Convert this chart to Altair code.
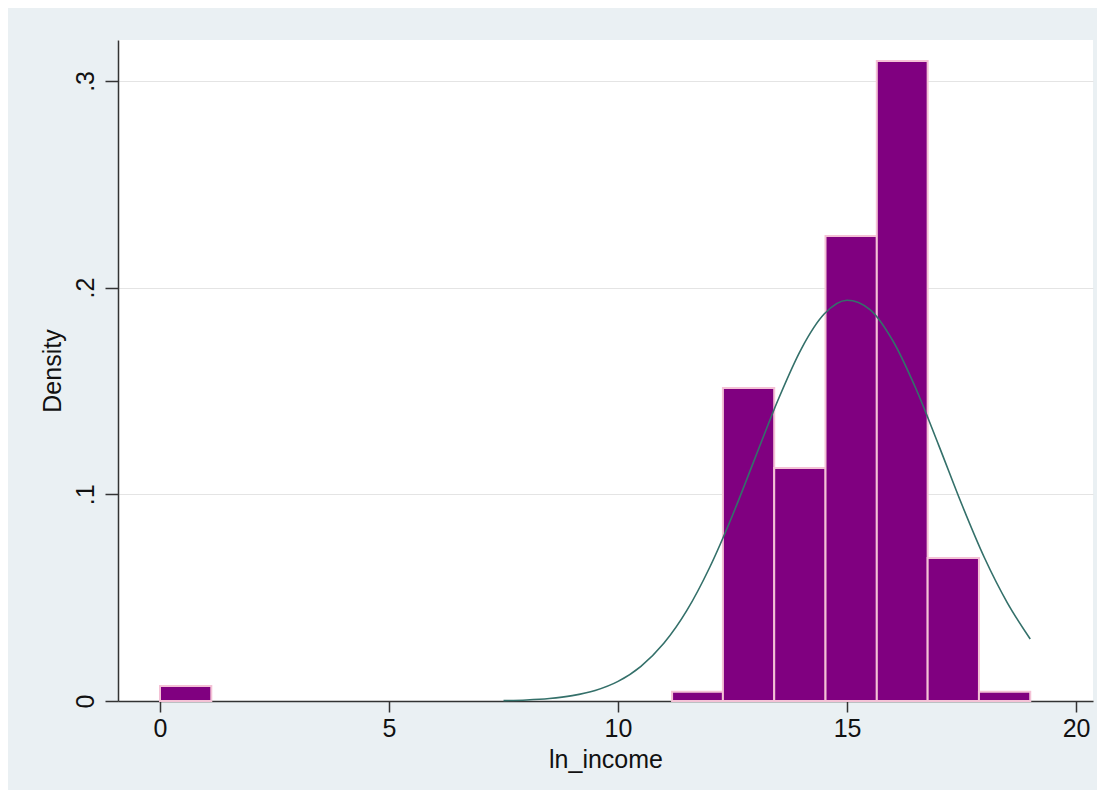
import altair as alt
import pandas as pd

# Histogram bins (ln_income) and their densities
bin_start = [0.0, 11.18, 12.29, 13.41, 14.53, 15.65, 16.76, 17.88]
bin_end = [1.12, 12.29, 13.41, 14.53, 15.65, 16.76, 17.88, 19.0]
density = [0.0072, 0.0045, 0.1514, 0.1127, 0.225, 0.3096, 0.0692, 0.0045]

# Normal density overlay
curve_x = [7.5, 8, 8.5, 9, 9.5, 10, 10.5, 11, 11.5, 12, 12.5,
           13, 13.5, 14, 14.5, 15, 15.5, 16, 16.5, 17, 17.5, 18, 18.5, 19]
curve_y = [0.0002, 0.0005, 0.0012, 0.0026, 0.0051, 0.0095,
           0.0168, 0.0279, 0.0437, 0.0646, 0.0899, 0.1180, 0.1460, 0.1703, 0.1872,
           0.1939, 0.1894, 0.1743, 0.1513, 0.1238, 0.0954, 0.0693, 0.0475, 0.0300]

x_ticks = [0, 5, 10, 15, 20]
y_ticks = [0, 0.1, 0.2, 0.3]

bars_df = pd.DataFrame({"start": bin_start, "end": bin_end, "density": density})
curve_df = pd.DataFrame({"x": curve_x, "y": curve_y})

FONT = "Liberation Sans"
AXC = "#333333"

xscale = alt.Scale(domain=[-0.917, 20.37], nice=False, zero=False)
yscale = alt.Scale(domain=[0, 0.3198], nice=False)

x_axis = alt.Axis(values=x_ticks, title="ln_income", grid=False,
                  domainColor=AXC, domainWidth=1.5, tickColor=AXC, tickWidth=1.5,
                  tickSize=11, labelFontSize=25, labelFont=FONT, labelColor="#111111",
                  labelPadding=4, labelFlush=False, titleFont=FONT, titleFontSize=25,
                  titleFontWeight="normal", titleColor="#111111", titlePadding=6)

y_axis = alt.Axis(values=y_ticks, title="Density", grid=True, gridColor="#e4e4e4",
                  gridWidth=1, domainColor=AXC, domainWidth=1.5, tickColor=AXC,
                  tickWidth=1.5, tickSize=13, labelFontSize=25, labelFont=FONT,
                  labelColor="#111111", labelAngle=270, labelAlign="center",
                  labelBaseline="alphabetic", labelPadding=12, labelOverlap=False,
                  labelExpr="datum.value == 0 ? '0' : '.' + format(datum.value * 10, 'd')",
                  titleFont=FONT, titleFontSize=25, titleFontWeight="normal",
                  titleColor="#111111", titlePadding=8)

bars = alt.Chart(bars_df).mark_rect(color="#800080", stroke="#f4c2d6", strokeWidth=2).encode(
    x=alt.X("start:Q", scale=xscale, axis=x_axis),
    x2="end:Q",
    y=alt.Y("density:Q", scale=yscale, axis=y_axis),
    y2=alt.datum(0),
)

curve = alt.Chart(curve_df).mark_line(color="#34706a", strokeWidth=1.6,
                                      interpolate="monotone").encode(
    x=alt.X("x:Q", scale=xscale),
    y=alt.Y("y:Q", scale=yscale),
)

chart = alt.layer(bars, curve).properties(
    width=975,
    height=661,
    autosize=alt.AutoSizeParams(type="none"),
    padding={"left": 110, "top": 32, "right": 4, "bottom": 89},
    background="#eaf0f3",
).configure_view(fill="white", strokeWidth=0)

chart.save("out.html", embed_options={"renderer": "svg", "actions": False})
